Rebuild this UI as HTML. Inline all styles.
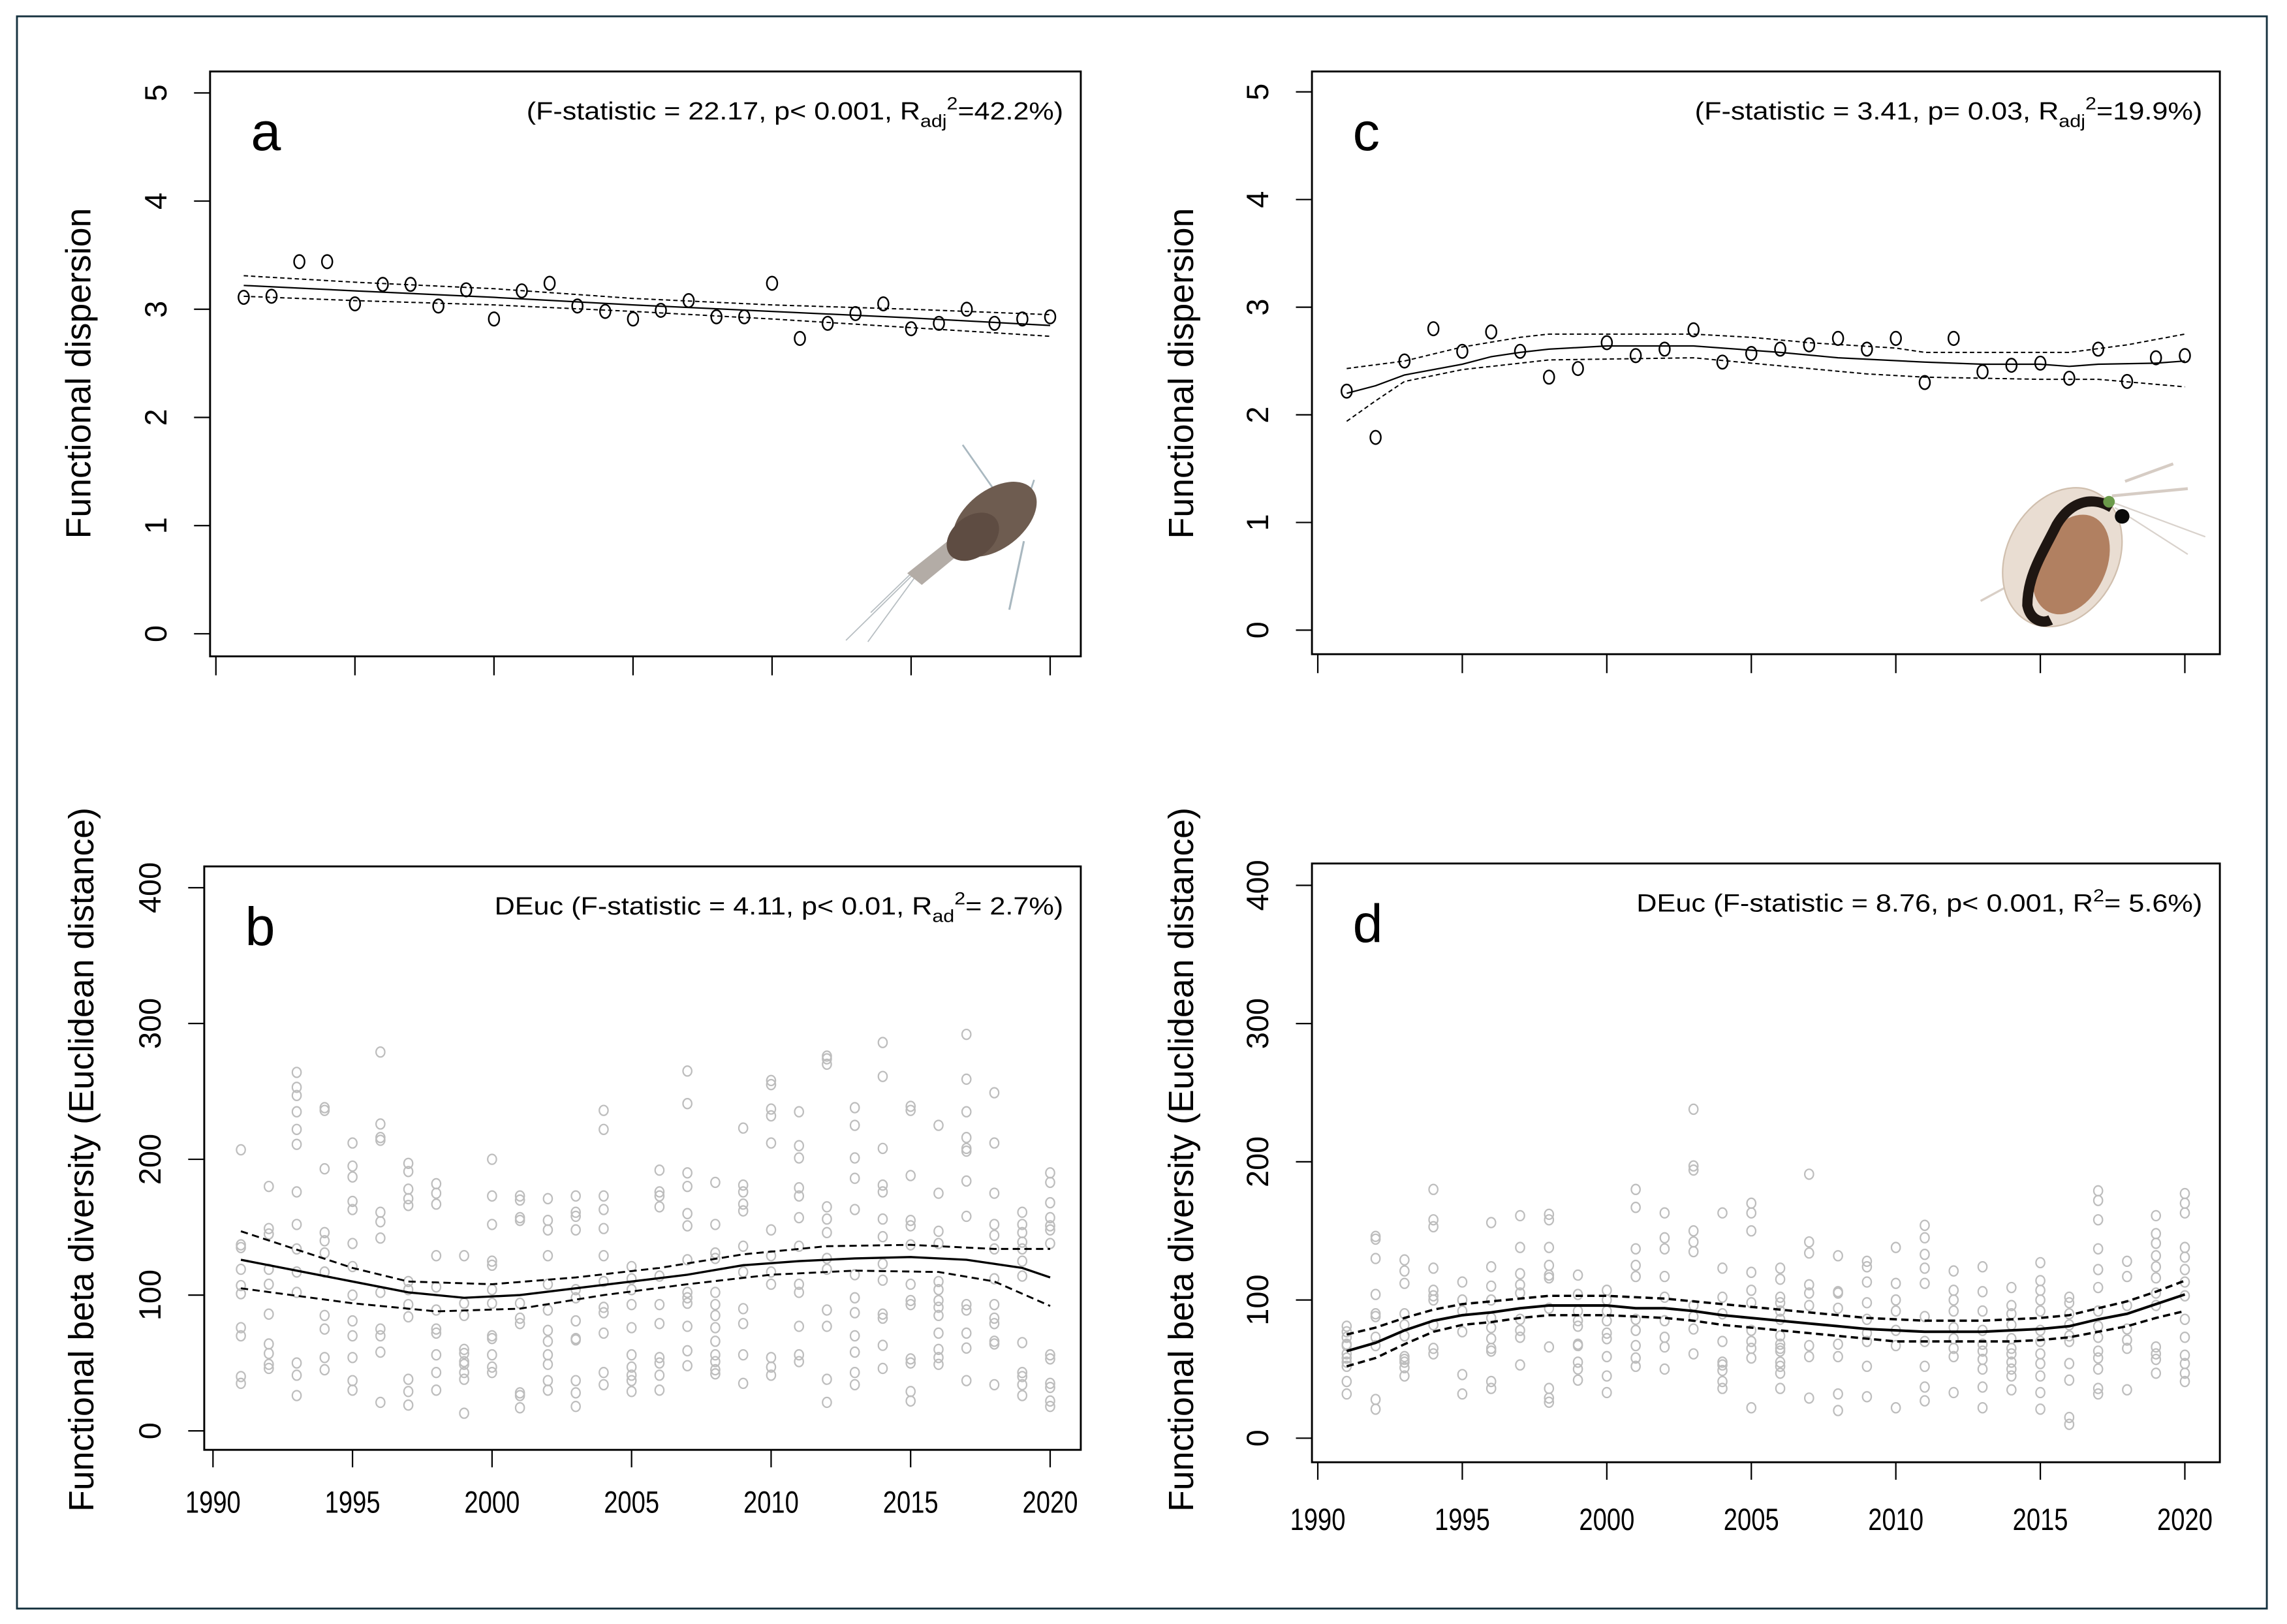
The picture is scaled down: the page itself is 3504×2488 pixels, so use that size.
<!DOCTYPE html>
<html><head><meta charset="utf-8"><style>
html,body{margin:0;padding:0;background:#fff;}
svg{display:block;}
text{font-family:"Liberation Sans",Arial,sans-serif;fill:#000;}
</style></head>
<body>
<svg id="fig" width="3504" height="2488" viewBox="0 0 1568 1113.4" xmlns="http://www.w3.org/2000/svg">
<rect x="0" y="0" width="1568" height="1113.4" fill="#fff"/>
<rect x="11.6" y="11.2" width="1542.6" height="1091.6" fill="none" stroke="#16323f" stroke-width="1.3"/>
<g id="layer"></g>
<!-- copepod illustration -->
<g>
  <line x1="660" y1="305" x2="695" y2="355" stroke="#a9b8c0" stroke-width="1.2"/>
  <line x1="702" y1="371" x2="692" y2="418" stroke="#a9b8c0" stroke-width="1.4"/>
  <line x1="709" y1="329" x2="697" y2="365" stroke="#a9b8c0" stroke-width="1.2"/>
  <line x1="632" y1="388" x2="580" y2="439" stroke="#b7bec2" stroke-width="0.8"/>
  <line x1="630" y1="392" x2="595" y2="440" stroke="#b7bec2" stroke-width="0.8"/>
  <line x1="630" y1="388" x2="597" y2="420" stroke="#b7bec2" stroke-width="0.8"/>
  <polygon points="622,393 651,370 660,378 632,401" fill="#b3aca6"/>
  <ellipse cx="682" cy="356" rx="33" ry="20" transform="rotate(-38 682 356)" fill="#6e5c50"/>
  <ellipse cx="667" cy="368" rx="20" ry="14" transform="rotate(-38 667 368)" fill="#5e4c42"/>
</g>
<!-- daphnia illustration -->
<g>
  <line x1="1448" y1="340" x2="1500" y2="335" stroke="#d6ccc4" stroke-width="2"/>
  <line x1="1450" y1="345" x2="1512" y2="368" stroke="#d9d2cc" stroke-width="1"/>
  <line x1="1450" y1="348" x2="1500" y2="380" stroke="#d9d2cc" stroke-width="1"/>
  <line x1="1457" y1="330" x2="1490" y2="318" stroke="#d6ccc4" stroke-width="2"/>
  <line x1="1380" y1="400" x2="1358" y2="412" stroke="#d9cfc6" stroke-width="1.5"/>
  <ellipse cx="1414" cy="382" rx="38" ry="50" transform="rotate(28 1414 382)" fill="#e9ddd2" stroke="#d0bfae" stroke-width="1"/>
  <ellipse cx="1420" cy="387" rx="24" ry="36" transform="rotate(25 1420 387)" fill="#a7704e" opacity="0.85"/>
  <path d="M1448,348 C1435,340 1420,343 1410,360 C1400,380 1390,395 1390,415 C1392,425 1400,428 1406,425" fill="none" stroke="#1e1612" stroke-width="7"/>
  <circle cx="1446" cy="344" r="4" fill="#6b9a4a"/>
  <circle cx="1455" cy="354" r="5" fill="#0a0a0a"/>
</g>
</svg>
<script>
// ===== Panel a: functional dispersion (copepods) =====
const yearsA = [1991,1992,1993,1994,1995,1996,1997,1998,1999,2000,2001,2002,2003,2004,2005,2006,2007,2008,2009,2010,2011,2012,2013,2014,2015,2016,2017,2018,2019,2020];
const valuesA = [3.11,3.12,3.44,3.44,3.05,3.23,3.23,3.03,3.18,2.91,3.17,3.24,3.03,2.98,2.91,2.99,3.08,2.93,2.93,3.24,2.73,2.87,2.96,3.05,2.82,2.87,3.00,2.87,2.91,2.93];
const fitYearsA = [1991,1995,2000,2005,2010,2015,2020];
const fitA = [3.22,3.17,3.11,3.04,2.98,2.92,2.85];
const upperA = [3.31,3.25,3.19,3.10,3.04,3.00,2.95];
const lowerA = [3.12,3.08,3.04,2.98,2.91,2.83,2.75];

// ===== Panel c: functional dispersion (cladocerans) =====
const yearsC = [1991,1992,1993,1994,1995,1996,1997,1998,1999,2000,2001,2002,2003,2004,2005,2006,2007,2008,2009,2010,2011,2012,2013,2014,2015,2016,2017,2018,2019,2020];
const valuesC = [2.22,1.79,2.50,2.80,2.59,2.77,2.59,2.35,2.43,2.67,2.55,2.61,2.79,2.49,2.57,2.61,2.65,2.71,2.61,2.71,2.30,2.71,2.40,2.46,2.48,2.34,2.61,2.31,2.53,2.55];
const fitYearsC = [1991,1992,1993,1995,1996,1997,1998,2000,2003,2004,2006,2008,2011,2013,2015,2016,2017,2019,2020];
const fitC = [2.20,2.27,2.37,2.47,2.54,2.58,2.61,2.64,2.64,2.62,2.58,2.53,2.49,2.47,2.47,2.45,2.47,2.48,2.50];
const upperYearsC = [1991,1993,1995,1997,1998,2003,2005,2007,2010,2011,2016,2018,2020];
const upperC = [2.43,2.50,2.63,2.72,2.75,2.75,2.72,2.67,2.62,2.58,2.58,2.65,2.75];
const lowerYearsC = [1991,1992,1993,1995,1997,1998,2003,2005,2007,2009,2011,2015,2017,2020];
const lowerC = [1.94,2.13,2.31,2.42,2.48,2.51,2.53,2.48,2.43,2.38,2.35,2.33,2.33,2.26];

// ===== Panel b: functional beta diversity (copepods) =====
const scatterYearsB = [1991,1992,1993,1994,1995,1996,1997,1998,1999,2000,2001,2002,2003,2004,2005,2006,2007,2008,2009,2010,2011,2012,2013,2014,2015,2016,2017,2018,2019,2020];
const scatterB = [
[207,137,135,119,107,101,76,70,40,35],
[180,149,145,119,108,86,64,57,49,46],
[264,253,247,235,222,211,176,152,134,117,102,50,41,26],
[238,236,193,146,140,131,117,85,75,54,45],
[212,195,187,169,163,138,121,100,81,70,54,37,30],
[279,226,216,214,161,154,142,102,75,70,58,21],
[197,191,178,171,166,110,104,93,84,38,29,19],
[182,175,167,129,106,89,75,72,56,43,30],
[129,94,85,60,57,51,49,43,38,13],
[200,173,152,125,122,104,94,70,68,56,47,43],
[173,170,157,155,94,83,79,28,26,17],
[171,155,148,129,108,89,74,66,56,49,37,30],
[173,161,158,148,104,98,81,68,67,37,28,18],
[236,222,173,163,149,129,110,91,87,72,43,34],
[121,112,104,93,76,56,47,41,37,29],
[192,176,173,165,114,93,79,54,50,41,30],
[265,241,190,180,160,151,126,102,98,94,77,59,48],
[183,152,131,127,102,93,85,76,66,56,51,45,42],
[223,181,176,167,162,136,117,90,79,56,35],
[258,255,237,232,212,148,129,117,108,54,47,41],
[235,210,201,179,173,157,136,108,102,77,56,51],
[276,274,270,165,156,146,127,119,89,77,38,21],
[238,225,201,186,163,115,98,87,70,58,43,34],
[286,261,208,181,176,156,143,123,111,86,83,63,46],
[239,236,188,155,151,137,108,96,93,53,50,29,22],
[225,175,147,138,110,104,96,91,85,72,60,54,49],
[292,259,235,216,208,206,184,158,93,89,72,61,37],
[249,212,175,152,144,134,112,93,83,79,66,64,34],
[161,152,146,139,134,125,114,65,43,40,34,26],
[190,183,168,157,151,148,138,56,53,35,32,22,18]
];
const fitYearsB = [1991,1995,1997,1999,2001,2003,2005,2007,2009,2011,2013,2015,2017,2019,2020];
const fitB = [126,110,102,98,100,105,110,115,122,125,127,128,126,120,113];
const upperYearsB = [1991,1995,1997,2000,2003,2006,2009,2012,2015,2018,2020];
const upperB = [147,120,110,108,113,120,130,136,137,134,134];
const lowerYearsB = [1991,1995,1998,2001,2004,2007,2010,2013,2016,2018,2020];
const lowerB = [105,94,88,90,100,108,115,118,117,110,92];

// ===== Panel d: functional beta diversity (cladocerans) =====
const scatterYearsD = [1991,1992,1993,1994,1995,1996,1997,1998,1999,2000,2001,2002,2003,2004,2005,2006,2007,2008,2009,2010,2011,2012,2013,2014,2015,2016,2017,2018,2019,2020];
const scatterD = [
[81,77,73,68,67,61,58,55,52,41,32],
[146,144,130,104,90,88,73,67,28,21],
[129,121,112,90,82,74,59,57,55,51,45],
[180,158,153,123,107,103,100,82,65,61],
[113,100,92,77,46,32],
[156,124,110,100,87,80,72,65,63,41,36],
[161,138,119,111,105,86,78,73,53],
[162,158,138,125,118,116,94,66,36,29,26],
[118,104,92,85,81,68,67,55,50,42],
[107,100,92,85,76,72,59,45,33],
[180,167,137,125,117,86,78,67,58,52],
[163,145,137,117,102,85,73,66,50],
[238,197,194,150,142,135,96,88,79,61],
[163,123,102,90,70,55,53,49,41,36],
[170,163,150,120,107,98,78,70,65,58,22],
[123,115,102,98,92,86,74,68,65,63,55,52,47,36],
[191,142,134,111,105,96,67,59,29],
[132,106,105,94,68,59,32,20],
[128,124,113,98,86,76,70,52,30],
[138,112,100,92,78,67,22],
[154,145,133,123,112,88,70,52,37,27],
[121,107,100,92,80,72,65,59,33],
[124,106,92,78,68,63,57,50,37,22],
[109,96,90,82,72,65,61,55,50,45,35],
[127,114,107,100,92,78,70,61,54,45,33,21],
[102,98,90,82,74,70,54,42,15,10],
[179,172,158,137,122,109,92,81,73,63,58,50,36,32],
[128,117,96,79,71,65,35],
[161,148,141,132,124,116,105,96,66,61,57,47],
[177,170,163,138,131,122,113,103,86,73,60,54,47,41]
];
const fitYearsD = [1991,1992,1993,1994,1995,1996,1997,1998,1999,2000,2001,2002,2003,2004,2005,2006,2007,2008,2009,2010,2011,2012,2013,2014,2015,2016,2017,2018,2019,2020];
const fitD = [63,69,78,85,89,91,94,96,96,96,94,94,92,89,87,85,83,81,79,78,77,77,77,78,79,81,86,90,97,104];
const upperD = [75,80,87,93,97,99,101,103,103,103,102,101,99,97,95,93,91,89,87,86,85,85,85,86,87,89,94,99,106,114];
const lowerD = [52,58,68,77,82,84,87,89,89,89,88,87,85,82,80,78,76,74,72,70,70,70,70,70,71,73,77,81,87,92];

const xTickLabels = ["1990","1995","2000","2005","2010","2015","2020"];
const xTickYears = [1990,1995,2000,2005,2010,2015,2020];
const yTicksTop = [0,1,2,3,4,5];
const yTicksBottom = [0,100,200,300,400];

const NS = "http://www.w3.org/2000/svg";
const layer = document.getElementById('layer');
function mk(tag, attrs, parent){
  const e = document.createElementNS(NS, tag);
  for (const k in attrs) e.setAttribute(k, attrs[k]);
  (parent||layer).appendChild(e);
  return e;
}
function linScale(d0,d1,r0,r1){ return v => r0 + (v-d0)*(r1-r0)/(d1-d0); }

function panel(cfg){
  const g = mk('g', {});
  
  
  const sx = linScale(1990,2020,cfg.x1990,cfg.x2020);
  const sy = linScale(cfg.yv0,cfg.yv1,cfg.y0,cfg.y1);
  const box = mk('rect',{x:cfg.bx,y:cfg.by,width:cfg.bw,height:cfg.bh,fill:'none',stroke:'#000','stroke-width':1.3},g);
  
  
  const bottom = cfg.by + cfg.bh;
  const xg = mk('g',{},g);
  
  
  xTickYears.forEach((yr,i)=>{
    const x = sx(yr);
    mk('line',{x1:x,y1:bottom,x2:x,y2:bottom+cfg.tickLen,stroke:'#000','stroke-width':1},xg);
    if (cfg.xlabels){
      const t = mk('text',{x:x,y:cfg.xLabelY,'text-anchor':'middle','font-size':21,textLength:38,lengthAdjust:'spacingAndGlyphs'},xg);
      
      
      t.textContent = xTickLabels[i];
    }
  });
  const yg = mk('g',{},g);
  
  
  cfg.yticks.forEach(v=>{
    const y = sy(v);
    mk('line',{x1:cfg.bx-11,y1:y,x2:cfg.bx,y2:y,stroke:'#000','stroke-width':1},yg);
    const lx = cfg.bx-30;
    const t = mk('text',{x:lx,y:y,'text-anchor':'middle','font-size':21,transform:`rotate(-90 ${lx} ${y})`},yg);
    
    
    t.textContent = String(v);
  });
  const tt = mk('text',{x:cfg.titleX,y:cfg.titleY,'text-anchor':'middle','font-size':cfg.titleSize,transform:`rotate(-90 ${cfg.titleX} ${cfg.titleY})`},g);
  
  
  tt.textContent = cfg.title;
  const lt = mk('text',{x:cfg.bx+28,y:cfg.by+54,'font-size':37},g);
  
  
  lt.textContent = cfg.letter;
  const an = mk('text',{x:cfg.bx+cfg.bw-12,y:cfg.by+33,'text-anchor':'end','font-size':17,textLength:cfg.annLen,lengthAdjust:'spacingAndGlyphs'},g);
  
  
  an.innerHTML = cfg.ann;
  return {g,sx,sy};
}

function pathFrom(xs, vs, sx, sy){
  return xs.map((yr,i)=>(i?'L':'M')+sx(yr).toFixed(2)+','+sy(vs[i]).toFixed(2)).join(' ');
}
function drawLine(g, xs, vs, sx, sy, name, dash, w){
  const p = mk('path',{d:pathFrom(xs,vs,sx,sy),fill:'none',stroke:'#000','stroke-width':w,'stroke-dasharray':dash||'none'},g);
  
  
}

const A = panel({name:'panel-a',bx:144,by:49,bw:597,bh:401,x1990:148,x2020:720,yv0:0,yv1:5,y0:434.5,y1:63.7,
  yticks:yTicksTop,tickLen:13,xlabels:false,titleX:62,titleY:256,titleSize:24,title:'Functional dispersion',letter:'a',annLen:368,
  ann:'(F-statistic = 22.17, p&lt; 0.001, R<tspan font-size="12" dy="5">adj</tspan><tspan font-size="12" dy="-12">2</tspan><tspan dy="7">=42.2%)</tspan>'});
drawLine(A.g, fitYearsA, upperA, A.sx, A.sy, 'upper-confidence-band', '3,2', 0.9);
drawLine(A.g, fitYearsA, lowerA, A.sx, A.sy, 'lower-confidence-band', '3,2', 0.9);
drawLine(A.g, fitYearsA, fitA, A.sx, A.sy, 'fitted-trend', null, 1);
yearsA.forEach((yr,i)=>{
  const c = mk('ellipse',{cx:A.sx(yr),cy:A.sy(valuesA[i]),rx:3.6,ry:4.6,fill:'none',stroke:'#000','stroke-width':1.1},A.g);
  
  
});

const C = panel({name:'panel-c',bx:899.5,by:49,bw:622.5,bh:399.5,x1990:903.5,x2020:1498,yv0:0,yv1:5,y0:432,y1:63,
  yticks:yTicksTop,tickLen:13,xlabels:false,titleX:818,titleY:256,titleSize:24,title:'Functional dispersion',letter:'c',annLen:348,
  ann:'(F-statistic = 3.41, p= 0.03, R<tspan font-size="12" dy="5">adj</tspan><tspan font-size="12" dy="-12">2</tspan><tspan dy="7">=19.9%)</tspan>'});
drawLine(C.g, upperYearsC, upperC, C.sx, C.sy, 'upper-confidence-band', '3,2', 0.9);
drawLine(C.g, lowerYearsC, lowerC, C.sx, C.sy, 'lower-confidence-band', '3,2', 0.9);
drawLine(C.g, fitYearsC, fitC, C.sx, C.sy, 'fitted-trend', null, 1);
yearsC.forEach((yr,i)=>{
  const c = mk('ellipse',{cx:C.sx(yr),cy:C.sy(valuesC[i]),rx:3.6,ry:4.6,fill:'none',stroke:'#000','stroke-width':1.1},C.g);
  
  
});

const B = panel({name:'panel-b',bx:140,by:594,bw:601,bh:400,x1990:146,x2020:720,yv0:0,yv1:400,y0:981,y1:608.6,
  yticks:yTicksBottom,tickLen:12,xlabels:true,xLabelY:1037,titleX:64,titleY:795,titleSize:24,title:'Functional beta diversity  (Euclidean distance)',letter:'b',annLen:390,
  ann:'DEuc (F-statistic = 4.11, p&lt; 0.01, R<tspan font-size="12" dy="5">ad</tspan><tspan font-size="12" dy="-12">2</tspan><tspan dy="7">= 2.7%)</tspan>'});
scatterYearsB.forEach((yr,i)=>{
  scatterB[i].forEach(v=>{
    const c = mk('ellipse',{cx:B.sx(yr),cy:B.sy(v),rx:3,ry:3.4,fill:'none',stroke:'#bdbdbd','stroke-width':1},B.g);
    
    
  });
});
drawLine(B.g, upperYearsB, upperB, B.sx, B.sy, 'upper-confidence-band', '5,3', 1.3);
drawLine(B.g, lowerYearsB, lowerB, B.sx, B.sy, 'lower-confidence-band', '5,3', 1.3);
drawLine(B.g, fitYearsB, fitB, B.sx, B.sy, 'fitted-trend', null, 1.5);

const D = panel({name:'panel-d',bx:899.5,by:592,bw:622.5,bh:410.5,x1990:903.5,x2020:1498,yv0:0,yv1:400,y0:986,y1:607,
  yticks:yTicksBottom,tickLen:12,xlabels:true,xLabelY:1049,titleX:818,titleY:795,titleSize:24,title:'Functional beta diversity  (Euclidean distance)',letter:'d',annLen:388,
  ann:'DEuc (F-statistic = 8.76, p&lt; 0.001, R<tspan font-size="12" dy="-7">2</tspan><tspan dy="7">= 5.6%)</tspan>'});
scatterYearsD.forEach((yr,i)=>{
  scatterD[i].forEach(v=>{
    const c = mk('ellipse',{cx:D.sx(yr),cy:D.sy(v),rx:3,ry:3.4,fill:'none',stroke:'#bdbdbd','stroke-width':1},D.g);
    
    
  });
});
drawLine(D.g, fitYearsD, upperD, D.sx, D.sy, 'upper-confidence-band', '5,3', 1.6);
drawLine(D.g, fitYearsD, lowerD, D.sx, D.sy, 'lower-confidence-band', '5,3', 1.6);
drawLine(D.g, fitYearsD, fitD, D.sx, D.sy, 'fitted-trend', null, 1.8);
</script>
</body></html>
